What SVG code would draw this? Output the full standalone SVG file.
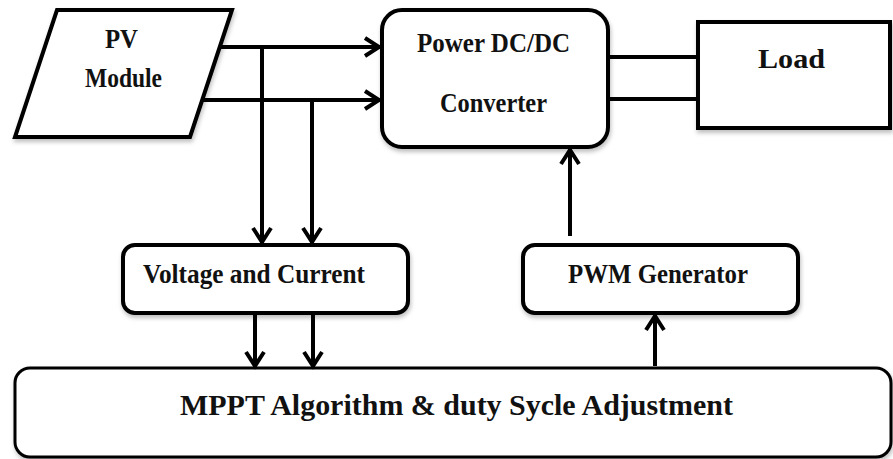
<svg xmlns="http://www.w3.org/2000/svg" width="893" height="459" viewBox="0 0 893 459">
  <defs>
    <filter id="sh" x="-10%" y="-10%" width="120%" height="130%">
      <feDropShadow dx="1" dy="3" stdDeviation="2" flood-color="#000" flood-opacity="0.25"/>
    </filter>
    <marker id="arr" markerUnits="userSpaceOnUse" markerWidth="24" markerHeight="24" viewBox="-18 -12 20 24" refX="0" refY="0" orient="auto">
      <path d="M-15,-9 L-1,0 L-15,9" fill="none" stroke="#000" stroke-width="4" stroke-linejoin="miter"/>
    </marker>
  </defs>
  <style>
    .box { fill: #fff; stroke: #000; stroke-width: 4; }
    .ln { fill: none; stroke: #000; stroke-width: 4; }
    .lbl { font-family: "Liberation Serif", "Times New Roman", serif; font-weight: bold; font-size: 27px; fill: #111; }
  </style>
  <rect width="893" height="459" fill="#fff"/>

  <g id="pv-module">
    <polygon class="box" points="57,10 232,10 190,137 15,137" filter="url(#sh)"/>
    <text class="lbl" x="105" y="48" textLength="33" lengthAdjust="spacingAndGlyphs">PV</text>
    <text class="lbl" x="85" y="87" textLength="77" lengthAdjust="spacingAndGlyphs">Module</text>
  </g>

  <g id="converter">
    <rect class="box" x="382" y="10" width="226" height="137" rx="20" filter="url(#sh)"/>
    <text class="lbl" x="417" y="52" textLength="153" lengthAdjust="spacingAndGlyphs">Power DC/DC</text>
    <text class="lbl" x="440" y="112" textLength="107" lengthAdjust="spacingAndGlyphs">Converter</text>
  </g>

  <g id="load">
    <rect class="box" x="698" y="22" width="192" height="106" filter="url(#sh)"/>
    <text class="lbl" x="758" y="68" textLength="67" lengthAdjust="spacingAndGlyphs">Load</text>
  </g>

  <g id="voltage-current">
    <rect class="box" x="123" y="245" width="285" height="68" rx="12" filter="url(#sh)"/>
    <text class="lbl" x="143" y="283" textLength="222" lengthAdjust="spacingAndGlyphs">Voltage and Current</text>
  </g>

  <g id="pwm">
    <rect class="box" x="523" y="245" width="275" height="68" rx="12" filter="url(#sh)"/>
    <text class="lbl" x="568" y="283" textLength="180" lengthAdjust="spacingAndGlyphs">PWM Generator</text>
  </g>

  <g id="mppt">
    <rect class="box" x="15" y="368" width="876" height="89" rx="15" style="stroke-width:3" filter="url(#sh)"/>
    <text class="lbl" x="180" y="415" style="font-size:30px" textLength="553" lengthAdjust="spacingAndGlyphs">MPPT Algorithm &amp; duty Sycle Adjustment</text>
  </g>

  <g id="connectors">
    <line class="ln" x1="220" y1="47" x2="380" y2="47" marker-end="url(#arr)"/>
    <line class="ln" x1="202" y1="100" x2="380" y2="100" marker-end="url(#arr)"/>
    <line class="ln" x1="262" y1="47" x2="262" y2="243" marker-end="url(#arr)"/>
    <line class="ln" x1="312" y1="100" x2="312" y2="243" marker-end="url(#arr)"/>
    <line class="ln" x1="255" y1="315" x2="255" y2="367" marker-end="url(#arr)"/>
    <line class="ln" x1="313" y1="315" x2="313" y2="367" marker-end="url(#arr)"/>
    <line class="ln" x1="655" y1="366" x2="655" y2="315" marker-end="url(#arr)"/>
    <line class="ln" x1="570" y1="236" x2="570" y2="149" marker-end="url(#arr)"/>
    <line class="ln" x1="608" y1="57" x2="698" y2="57"/>
    <line class="ln" x1="608" y1="99" x2="698" y2="99"/>
  </g>
</svg>
